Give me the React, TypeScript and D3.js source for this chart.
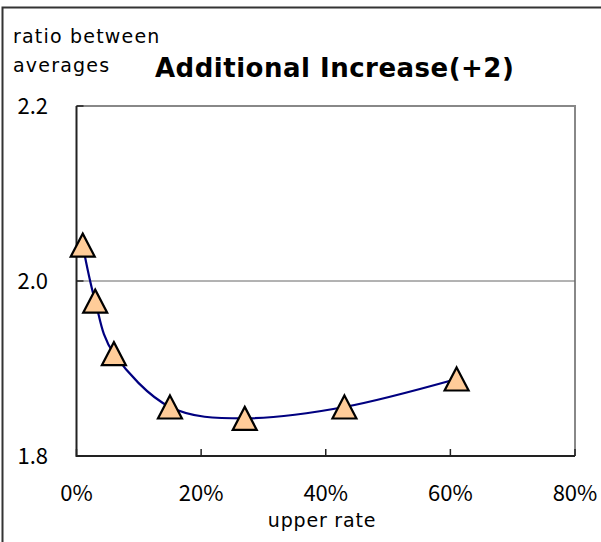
import { useEffect, useRef } from "react";
import * as d3 from "d3";

// upper rate (%) and ratio between averages
const rates = [1, 3, 6, 15, 27, 43, 61];
const ratios = [2.041, 1.977, 1.917, 1.856, 1.843, 1.856, 1.888];
const xTicks = [0, 20, 40, 60, 80];
const yTicks = [1.8, 2.0, 2.2];
const gridValues = [2.0];
const yTitleLines = ["ratio between", "averages"];

const NUM_FONT = "'Noto Sans CJK JP', 'Noto Sans', sans-serif";
const TXT_FONT = "'DejaVu Sans', sans-serif";

export default function App() {
  const ref = useRef<SVGSVGElement | null>(null);

  useEffect(() => {
    document.body.style.margin = "0";
    const width = 601;
    const height = 542;
    const left = 76.5;
    const right = 575;
    const top = 106;
    const bottom = 456;

    const svg = d3.select(ref.current);
    svg.selectAll("*").remove();
    svg.attr("width", width).attr("height", height);

    const x = d3.scaleLinear().domain([0, 80]).range([left, right]);
    const y = d3.scaleLinear().domain([1.8, 2.2]).range([bottom, top]);

    // outer chart frame (runs off the right/bottom edge)
    svg
      .append("rect")
      .attr("x", 2.5)
      .attr("y", 7.5)
      .attr("width", 620)
      .attr("height", 560)
      .attr("fill", "white")
      .attr("stroke", "#333")
      .attr("stroke-width", 2);

    // plot frame: top/right gray
    svg
      .append("path")
      .attr("d", `M${left},${top}H${right}V${bottom}`)
      .attr("fill", "none")
      .attr("stroke", "#888")
      .attr("stroke-width", 2);

    svg
      .selectAll("line.grid")
      .data(gridValues)
      .enter()
      .append("line")
      .attr("class", "grid")
      .attr("x1", left)
      .attr("x2", right)
      .attr("y1", (d) => y(d))
      .attr("y2", (d) => y(d))
      .attr("stroke", "#666")
      .attr("stroke-width", 1);

    // axes
    svg
      .append("path")
      .attr("d", `M${left},${top}V${bottom}H${right}`)
      .attr("fill", "none")
      .attr("stroke", "#222")
      .attr("stroke-width", 2);

    svg
      .selectAll("line.xtick")
      .data(xTicks)
      .enter()
      .append("line")
      .attr("class", "xtick")
      .attr("x1", (d) => x(d))
      .attr("x2", (d) => x(d))
      .attr("y1", bottom)
      .attr("y2", bottom - 7)
      .attr("stroke", "#222")
      .attr("stroke-width", 1.5);

    svg
      .selectAll("line.ytick")
      .data(yTicks)
      .enter()
      .append("line")
      .attr("class", "ytick")
      .attr("x1", left)
      .attr("x2", left + 7)
      .attr("y1", (d) => y(d))
      .attr("y2", (d) => y(d))
      .attr("stroke", "#222")
      .attr("stroke-width", 1.5);

    svg
      .selectAll("text.ylab")
      .data(yTicks)
      .enter()
      .append("text")
      .attr("class", "ylab")
      .attr("x", 48)
      .attr("y", (d) => y(d) + 8)
      .attr("text-anchor", "end")
      .attr("font-family", NUM_FONT)
      .attr("font-size", 22)
      .text((d) => d.toFixed(1));

    svg
      .selectAll("text.xlab")
      .data(xTicks)
      .enter()
      .append("text")
      .attr("class", "xlab")
      .attr("x", (d) => x(d))
      .attr("y", 501)
      .attr("text-anchor", "middle")
      .attr("font-family", NUM_FONT)
      .attr("font-size", 22)
      .text((d) => `${d}%`);

    svg
      .append("text")
      .attr("x", 322)
      .attr("y", 527)
      .attr("text-anchor", "middle")
      .attr("font-family", TXT_FONT)
      .attr("font-size", 19)
      .attr("letter-spacing", 0.8)
      .text("upper rate");

    svg
      .append("text")
      .attr("font-family", TXT_FONT)
      .attr("font-size", 19)
      .attr("letter-spacing", 1.2)
      .selectAll("tspan")
      .data(yTitleLines)
      .enter()
      .append("tspan")
      .attr("x", 13)
      .attr("y", (_, i) => 43 + i * 29)
      .text((d) => d);

    svg
      .append("text")
      .attr("x", 155)
      .attr("y", 77)
      .attr("font-family", TXT_FONT)
      .attr("font-size", 26)
      .attr("font-weight", "bold")
      .attr("letter-spacing", 0.5)
      .text("Additional Increase(+2)");

    const points = rates.map((r, i) => [x(r), y(ratios[i])] as [number, number]);

    const line = d3.line().curve(d3.curveCardinal.tension(0));
    svg
      .append("path")
      .attr("d", line(points))
      .attr("fill", "none")
      .attr("stroke", "#000080")
      .attr("stroke-width", 2.2);

    const tri = "M0,-11.5L12,11.5L-12,11.5Z";
    svg
      .selectAll("path.marker")
      .data(points)
      .enter()
      .append("path")
      .attr("class", "marker")
      .attr("transform", (d) => `translate(${d[0]},${d[1]})`)
      .attr("d", tri)
      .attr("fill", "#FFCC99")
      .attr("stroke", "#000")
      .attr("stroke-width", 2.2);
  }, []);

  return <svg ref={ref}></svg>;
}
